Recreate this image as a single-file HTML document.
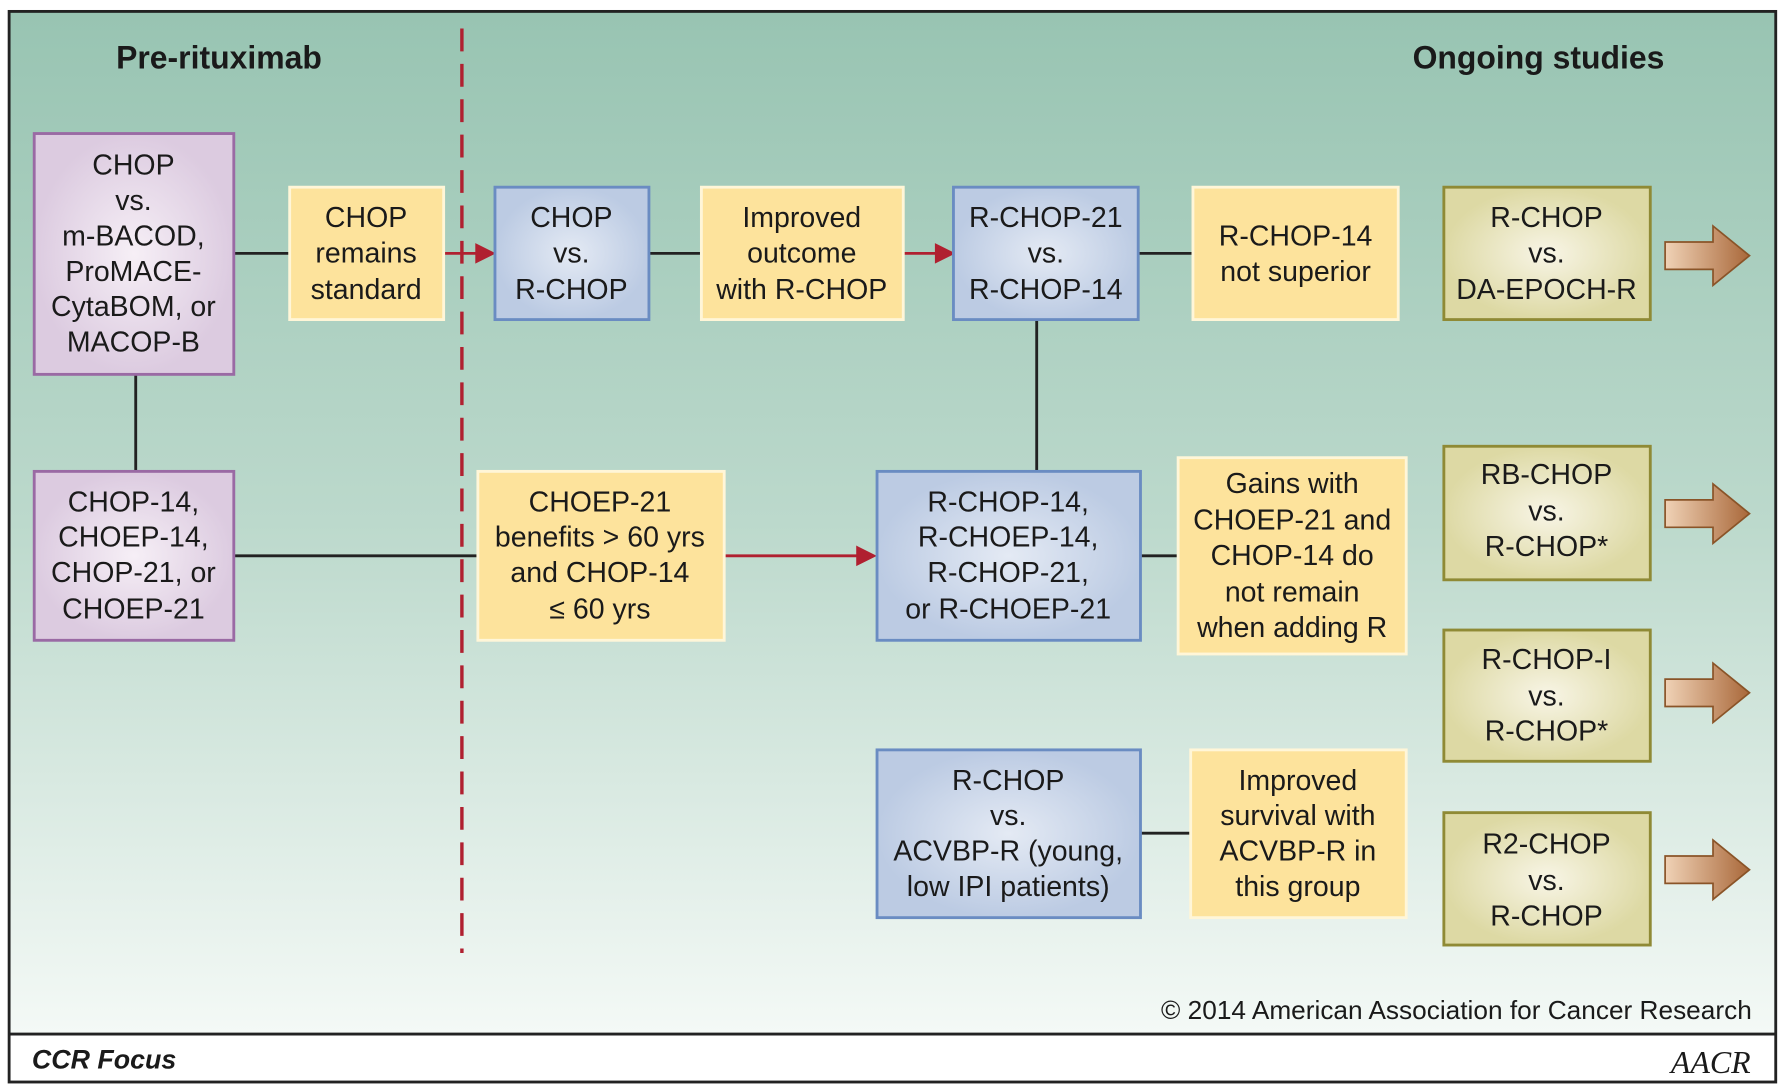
<!DOCTYPE html>
<html><head><meta charset="utf-8"><style>
html,body{margin:0;padding:0;background:#fff;}
svg{display:block;}
text{font-family:"Liberation Sans",sans-serif;fill:#1a1a1a;}
</style></head><body>
<svg width="1786" height="1090" viewBox="0 0 1566 955" preserveAspectRatio="none" xmlns="http://www.w3.org/2000/svg">
<defs>
<linearGradient id="bg" x1="0" y1="0" x2="0" y2="1">
<stop offset="0" stop-color="#98c4b2"/><stop offset="0.5" stop-color="#bcd9cc"/><stop offset="1" stop-color="#f4f9f6"/>
</linearGradient>
<radialGradient id="bl"><stop offset="0" stop-color="#e4eaf4"/><stop offset="1" stop-color="#bccbe3"/></radialGradient>
<radialGradient id="pu"><stop offset="0" stop-color="#f6eff6"/><stop offset="1" stop-color="#dccbe0"/></radialGradient>
<radialGradient id="ol"><stop offset="0" stop-color="#f8f5e6"/><stop offset="1" stop-color="#ddd9a4"/></radialGradient>
<linearGradient id="ar" x1="0" y1="0" x2="1" y2="0"><stop offset="0" stop-color="#f0d2b6"/><stop offset="1" stop-color="#a9683a"/></linearGradient>
</defs>
<rect x="8" y="10" width="1549" height="896" fill="url(#bg)"/>
<rect x="8" y="906" width="1549" height="42" fill="#fff"/>
<rect x="8" y="10" width="1549" height="938" fill="none" stroke="#222" stroke-width="2.5"/>
<line x1="8" y1="906" x2="1557" y2="906" stroke="#222" stroke-width="2.5"/>
<line x1="405" y1="25" x2="405" y2="835" stroke="#b02030" stroke-width="3" stroke-dasharray="20,11"/>
<text x="192" y="60" font-size="28" font-weight="bold" text-anchor="middle">Pre-rituximab</text>
<text x="1349" y="60" font-size="28" font-weight="bold" text-anchor="middle">Ongoing studies</text>

<g stroke="#222" stroke-width="2.5" fill="none">
<line x1="205" y1="222" x2="254" y2="222"/>
<line x1="569" y1="222" x2="615" y2="222"/>
<line x1="998" y1="222" x2="1046" y2="222"/>
<line x1="119" y1="328" x2="119" y2="413"/>
<line x1="909" y1="280" x2="909" y2="413"/>
<line x1="205" y1="487" x2="419" y2="487"/>
<line x1="1000" y1="487" x2="1033" y2="487"/>
<line x1="1000" y1="730" x2="1044" y2="730"/>
</g>
<g stroke="#b02030" stroke-width="2.5" fill="#b02030">
<line x1="389" y1="222" x2="422" y2="222"/><path d="M418,215 L432,222 L418,229z"/>
<line x1="792" y1="222" x2="825" y2="222"/><path d="M821,215 L835,222 L821,229z"/>
<line x1="635" y1="487" x2="755" y2="487"/><path d="M752,480 L766,487 L752,494z"/>
</g>

<g stroke-width="2.5">
<rect x="30" y="117" width="175" height="211" fill="url(#pu)" stroke="#9a6aa4"/>
<rect x="30" y="413" width="175" height="148" fill="url(#pu)" stroke="#9a6aa4"/>
<rect x="254" y="164" width="135" height="116" fill="#fde39c" stroke="#fff6d8"/>
<rect x="434" y="164" width="135" height="116" fill="url(#bl)" stroke="#6a8cc2"/>
<rect x="615" y="164" width="177" height="116" fill="#fde39c" stroke="#fff6d8"/>
<rect x="836" y="164" width="162" height="116" fill="url(#bl)" stroke="#6a8cc2"/>
<rect x="1046" y="164" width="180" height="116" fill="#fde39c" stroke="#fff6d8"/>
<rect x="419" y="413" width="216" height="148" fill="#fde39c" stroke="#fff6d8"/>
<rect x="769" y="413" width="231" height="148" fill="url(#bl)" stroke="#6a8cc2"/>
<rect x="1033" y="401" width="200" height="172" fill="#fde39c" stroke="#fff6d8"/>
<rect x="769" y="657" width="231" height="147" fill="url(#bl)" stroke="#6a8cc2"/>
<rect x="1044" y="657" width="189" height="147" fill="#fde39c" stroke="#fff6d8"/>
<rect x="1266" y="164" width="181" height="116" fill="url(#ol)" stroke="#8f8a35"/>
<rect x="1266" y="391" width="181" height="117" fill="url(#ol)" stroke="#8f8a35"/>
<rect x="1266" y="552" width="181" height="115" fill="url(#ol)" stroke="#8f8a35"/>
<rect x="1266" y="712" width="181" height="116" fill="url(#ol)" stroke="#8f8a35"/>
</g>
<g fill="url(#ar)" stroke="#8a5428" stroke-width="1.5">
<path d="M1460,212 L1502,212 L1502,198 L1534,224 L1502,250 L1502,236 L1460,236z"/>
<path d="M1460,438 L1502,438 L1502,424 L1534,450 L1502,476 L1502,462 L1460,462z"/>
<path d="M1460,595 L1502,595 L1502,581 L1534,607 L1502,633 L1502,619 L1460,619z"/>
<path d="M1460,750 L1502,750 L1502,736 L1534,762 L1502,788 L1502,774 L1460,774z"/>
</g>

<g font-size="25" text-anchor="middle">
<text x="117" y="153">CHOP</text><text x="117" y="184">vs.</text><text x="117" y="215">m-BACOD,</text><text x="117" y="246">ProMACE-</text><text x="117" y="277">CytaBOM, or</text><text x="117" y="308">MACOP-B</text>
<text x="117" y="448">CHOP-14,</text><text x="117" y="479">CHOEP-14,</text><text x="117" y="510">CHOP-21, or</text><text x="117" y="542">CHOEP-21</text>
<text x="321" y="199">CHOP</text><text x="321" y="230">remains</text><text x="321" y="262">standard</text>
<text x="501" y="199">CHOP</text><text x="501" y="230">vs.</text><text x="501" y="262">R-CHOP</text>
<text x="703" y="199">Improved</text><text x="703" y="230">outcome</text><text x="703" y="262">with R-CHOP</text>
<text x="917" y="199">R-CHOP-21</text><text x="917" y="230">vs.</text><text x="917" y="262">R-CHOP-14</text>
<text x="1136" y="215">R-CHOP-14</text><text x="1136" y="246">not superior</text>
<text x="1356" y="199">R-CHOP</text><text x="1356" y="230">vs.</text><text x="1356" y="262">DA-EPOCH-R</text>
<text x="526" y="448">CHOEP-21</text><text x="526" y="479">benefits &gt; 60 yrs</text><text x="526" y="510">and CHOP-14</text><text x="526" y="542">≤ 60 yrs</text>
<text x="884" y="448">R-CHOP-14,</text><text x="884" y="479">R-CHOEP-14,</text><text x="884" y="510">R-CHOP-21,</text><text x="884" y="542">or R-CHOEP-21</text>
<text x="1133" y="432">Gains with</text><text x="1133" y="464">CHOEP-21 and</text><text x="1133" y="495">CHOP-14 do</text><text x="1133" y="527">not remain</text><text x="1133" y="558">when adding R</text>
<text x="1356" y="424">RB-CHOP</text><text x="1356" y="456">vs.</text><text x="1356" y="487">R-CHOP*</text>
<text x="1356" y="586">R-CHOP-I</text><text x="1356" y="618">vs.</text><text x="1356" y="649">R-CHOP*</text>
<text x="1356" y="748">R2-CHOP</text><text x="1356" y="780">vs.</text><text x="1356" y="811">R-CHOP</text>
<text x="884" y="692">R-CHOP</text><text x="884" y="723">vs.</text><text x="884" y="754">ACVBP-R (young,</text><text x="884" y="785">low IPI patients)</text>
<text x="1138" y="692">Improved</text><text x="1138" y="723">survival with</text><text x="1138" y="754">ACVBP-R in</text><text x="1138" y="785">this group</text>
</g>
<text x="1536" y="893" font-size="23" text-anchor="end">© 2014 American Association for Cancer Research</text>
<text x="28" y="936" font-size="23.5" font-weight="bold" font-style="italic">CCR Focus</text>
<text x="1535" y="940" font-size="28" font-style="italic" text-anchor="end" style="font-family:'Liberation Serif',serif">AACR</text>
</svg>
</body></html>
